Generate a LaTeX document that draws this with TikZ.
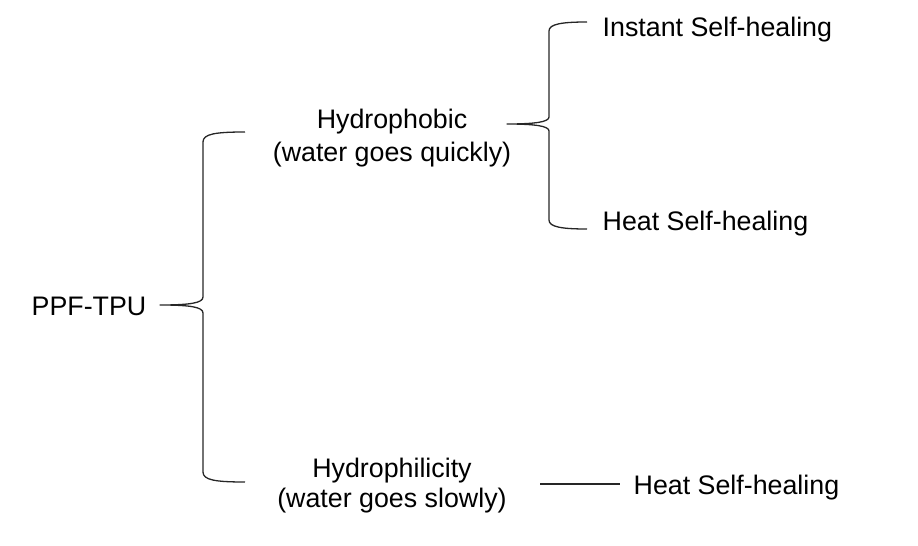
\documentclass[tikz,border=0pt]{standalone}
\usepackage{fontspec}
\setmainfont{Liberation Sans}
\usetikzlibrary{positioning}

\begin{document}
\begin{tikzpicture}[x=0.5pt,y=-0.5pt,line width=0.65pt,
        every node/.style={inner sep=0pt,font=\fontsize{13.4pt}{17pt}\selectfont},
        branch/.style={align=center,anchor=base},
        leaf/.style={anchor=base west},
        curly/.style={draw=black!85,line join=round}]
        \useasboundingbox (0,0) rectangle (918,546);

        \node[leaf] (root) at (31,315) {PPF-TPU};
        \node[branch] (phobic) at (392,162) {Hydrophobic\\(water goes quickly)};
        \node[branch,font=\fontsize{13.4pt}{15pt}\selectfont] (philic) at (392,507) {Hydrophilicity\\(water goes slowly)};
        \node[leaf] (instant) at (602,36) {Instant Self-healing};
        \node[leaf] (heatA) at (602,230) {Heat Self-healing};
        \node[leaf] (heatB) at (633,494) {Heat Self-healing};

        % brace ends
        \coordinate (tipA) at (160,305);
        \coordinate (topA) at (245,132);
        \coordinate (botA) at (245,482);
        \coordinate (tipB) at (507,124);
        \coordinate (topB) at (587,22);
        \coordinate (botB) at (587,229);
        \coordinate (lineL) at (540,484);
        \coordinate (lineR) at (620,484);

        \path[curly] (topA) .. controls (215,132) and (203,134) .. (203,142) -- (203,297)
                .. controls (203,303) and (190,305) .. (tipA)
                .. controls (190,305) and (203,307) .. (203,313) -- (203,472)
                .. controls (203,480) and (215,482) .. (botA);
        \path[curly] (topB) .. controls (562,22) and (549,24) .. (549,31) -- (549,117)
                .. controls (549,122) and (535,124) .. (tipB)
                .. controls (535,124) and (549,126) .. (549,131) -- (549,220)
                .. controls (549,227) and (562,229) .. (botB);
        \draw[black!85] (lineL) -- (lineR);
\end{tikzpicture}
\end{document}
